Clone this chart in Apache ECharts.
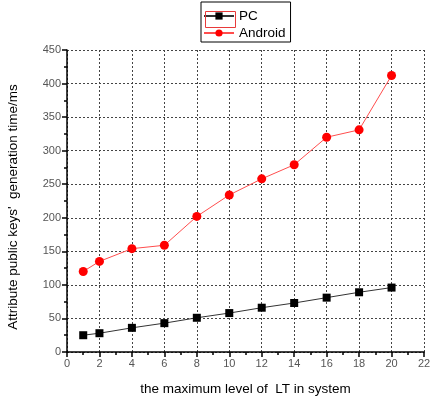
<!DOCTYPE html>
<html>
<head>
<meta charset="utf-8">
<script src="https://cdn.jsdelivr.net/npm/echarts@6/dist/echarts.min.js"></script>
<style>
  html, body { margin: 0; padding: 0; background: #fff; }
  #chart { width: 430px; height: 398px; }
</style>
</head>
<body>
<div id="chart"></div>
<script>
const levels = [1, 2, 4, 6, 8, 10, 12, 14, 16, 18, 20];
const pcTimes = [25, 28, 36, 43, 51, 58, 66, 73, 81, 89, 96];
const androidTimes = [120, 135, 154, 159, 202, 234, 258, 279, 320, 331, 412];

const chart = echarts.init(document.getElementById('chart'));

const font = 'Liberation Sans, Arial, sans-serif';

const option = {
  animation: false,
  grid: { left: 67, right: 6, top: 50, bottom: 46, outerBoundsMode: 'none' },
  legend: {
    orient: 'vertical',
    left: 201,
    top: 2,
    itemWidth: 30,
    itemHeight: 9,
    itemGap: 3,
    padding: [7, 5, 2, 2],
    borderColor: '#000',
    borderWidth: 1,
    textStyle: { fontFamily: font, fontSize: 13.5, color: '#000' },
    data: ['PC', 'Android']
  },
  // selection box that Origin left around the PC legend entry
  graphic: [{
    type: 'rect',
    left: 203,
    top: 9,
    shape: { width: 30, height: 16 },
    style: { fill: 'none', stroke: '#e83a3a', lineWidth: 1 },
    z: 100
  }],
  xAxis: {
    type: 'value',
    min: 0,
    max: 22,
    interval: 2,
    name: 'the maximum level of  LT in system',
    nameLocation: 'middle',
    nameGap: 30,
    nameTextStyle: { fontFamily: font, fontSize: 13.5, color: '#000' },
    axisLine: { onZero: false, lineStyle: { color: '#000', width: 1.5 } },
    axisTick: { length: 5, lineStyle: { color: '#000', width: 1.5 } },
    minorTick: { show: true, splitNumber: 2, length: 3, lineStyle: { color: '#000', width: 1.5 } },
    axisLabel: { fontFamily: font, fontSize: 11, color: '#555', margin: 6 },
    splitLine: { show: true, lineStyle: { color: '#444', type: [2, 2], width: 1 } }
  },
  yAxis: {
    type: 'value',
    min: 0,
    max: 450,
    interval: 50,
    name: "Attribute public keys'  generation time/ms",
    nameLocation: 'middle',
    nameGap: 47,
    nameTextStyle: { fontFamily: font, fontSize: 13.5, color: '#000', padding: [0, 12, 0, 0] },
    axisLine: { show: true, lineStyle: { color: '#000', width: 1.5 } },
    axisTick: { show: true, length: 5, lineStyle: { color: '#000', width: 1.5 } },
    minorTick: { show: true, splitNumber: 2, length: 3, lineStyle: { color: '#000', width: 1.5 } },
    axisLabel: { fontFamily: font, fontSize: 11, color: '#555', margin: 6 },
    splitLine: { show: true, lineStyle: { color: '#444', type: [2, 2], width: 1 } }
  },
  series: [
    {
      name: 'PC',
      type: 'line',
      data: levels.map((x, i) => [x, pcTimes[i]]),
      symbol: 'rect',
      symbolSize: 8,
      itemStyle: { color: '#000' },
      lineStyle: { color: '#333', width: 1 }
    },
    {
      name: 'Android',
      type: 'line',
      data: levels.map((x, i) => [x, androidTimes[i]]),
      symbol: 'circle',
      symbolSize: 9,
      itemStyle: { color: '#ff0000' },
      lineStyle: { color: '#ff4d4d', width: 1 }
    }
  ]
};

chart.setOption(option);
</script>
</body>
</html>
